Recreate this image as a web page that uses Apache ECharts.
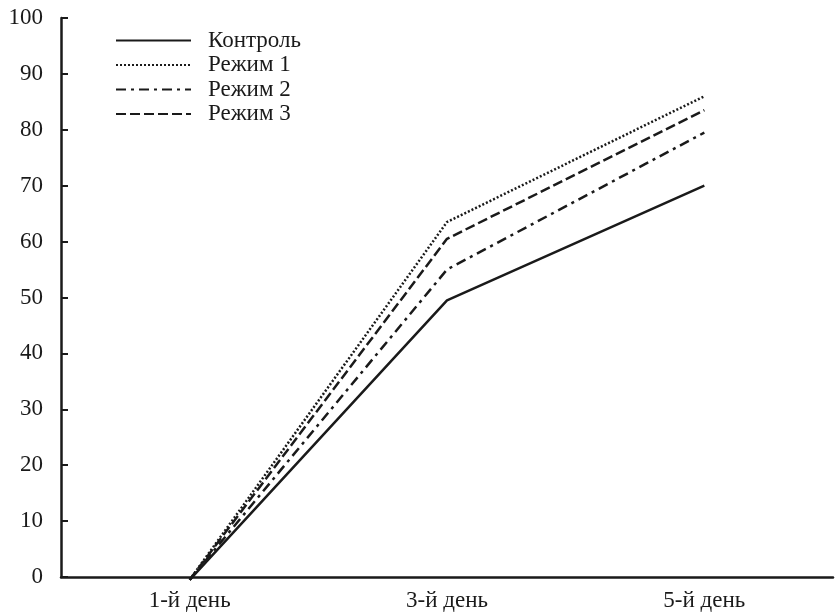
<!DOCTYPE html>
<html>
<head>
<meta charset="utf-8">
<script src="https://cdn.jsdelivr.net/npm/echarts@6/dist/echarts.min.js"></script>
<style>
  html, body { margin: 0; padding: 0; background: #fff; }
  #chart { width: 837px; height: 613px; }
</style>
</head>
<body>
<div id="chart"></div>
<script>
// data
const days = ['1-й день', '3-й день', '5-й день'];
const control = [-0.5, 49.5, 70];
const mode1 = [-0.5, 63.5, 86];
const mode2 = [-0.5, 55, 79.5];
const mode3 = [-0.5, 60.5, 83.5];
const yTicks = { min: 0, max: 100, interval: 10 };

const font = '"Liberation Serif", "Times New Roman", serif';
const ink = '#1a1a1a';

function lineSeries(name, data, type) {
    return {
        name: name,
        type: 'line',
        data: data,
        symbol: 'none',
        clip: false,
        color: ink,
        lineStyle: { color: ink, width: 2.5, type: type }
    };
}

document.addEventListener('DOMContentLoaded', function () {
    const chart = echarts.init(document.getElementById('chart'));
    chart.setOption({
        animation: false,
        grid: { left: 61, right: 4, top: 18, bottom: 36 },
        legend: {
            orient: 'vertical',
            left: 110,
            top: 24,
            itemWidth: 75,
            itemHeight: 14,
            itemGap: 1.5,
            itemStyle: { opacity: 0 },
            textStyle: { fontFamily: font, fontSize: 23, color: ink, padding: [0, 0, 0, 12] },
            data: ['Контроль', 'Режим 1', 'Режим 2', 'Режим 3']
        },
        xAxis: {
            type: 'category',
            data: days,
            boundaryGap: true,
            axisLine: { lineStyle: { color: ink, width: 2.5 } },
            axisTick: { inside: true, length: 9, lineStyle: { color: ink, width: 2 } },
            axisLabel: { fontFamily: font, fontSize: 23, color: ink, margin: 12 },
            splitLine: { show: false }
        },
        yAxis: {
            type: 'value',
            min: yTicks.min,
            max: yTicks.max,
            interval: yTicks.interval,
            axisLine: { show: true, lineStyle: { color: ink, width: 2.5 } },
            axisTick: { show: true, inside: true, length: 7, lineStyle: { color: ink, width: 2 } },
            axisLabel: { fontFamily: font, fontSize: 23, color: ink, margin: 18 },
            splitLine: { show: false }
        },
        series: [
            lineSeries('Контроль', control, 'solid'),
            lineSeries('Режим 1', mode1, [2, 2]),
            lineSeries('Режим 2', mode2, [10, 5, 3, 5]),
            lineSeries('Режим 3', mode3, [10, 4])
        ]
    });
    window.addEventListener('resize', function () {
        chart.resize();
    });
});
</script>
</body>
</html>
